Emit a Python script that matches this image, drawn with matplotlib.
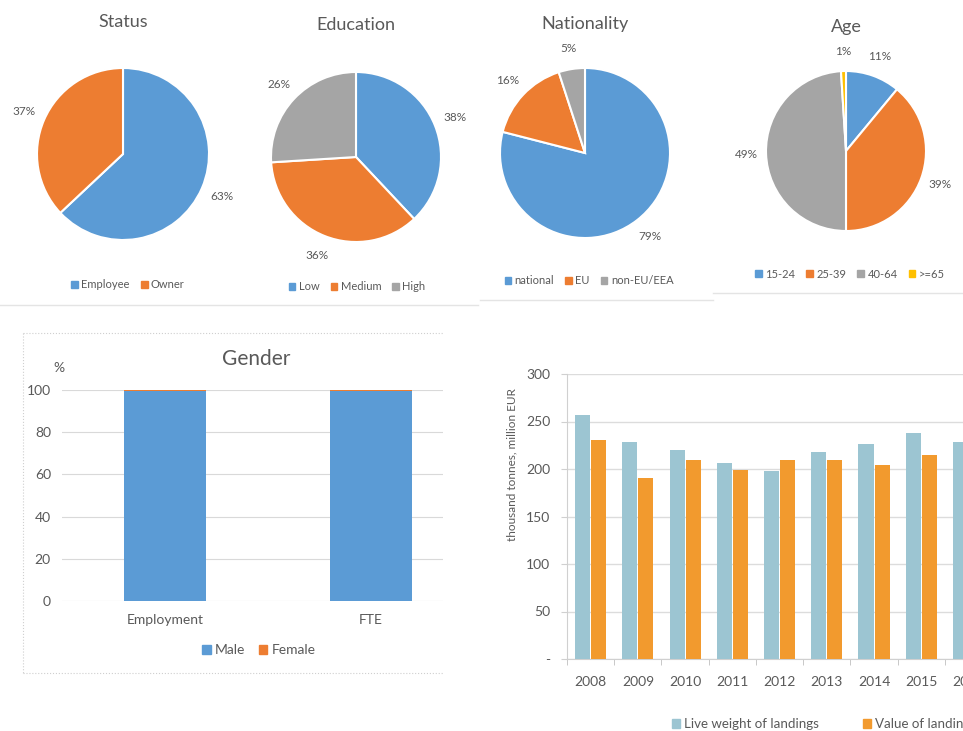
import matplotlib
matplotlib.use("Agg")
import matplotlib.pyplot as plt
from matplotlib.patches import Patch
from matplotlib.lines import Line2D
import numpy as np

plt.rcParams['font.family'] = ['Lato', 'DejaVu Sans']
TXT = '#595959'

# ---- data ----
status_labels = ['Employee', 'Owner']
status_values = [63, 37]

edu_labels = ['Low', 'Medium', 'High']
edu_values = [38, 36, 26]

nat_labels = ['national', 'EU', 'non-EU/EEA']
nat_values = [79, 16, 5]

age_labels = ['15-24', '25-39', '40-64', '>=65']
age_values = [11, 39, 49, 1]

gender_cats = ['Employment', 'FTE']
male = [99.6, 99.6]
female = [0.4, 0.4]

years = ['2008', '2009', '2010', '2011', '2012', '2013', '2014', '2015', '2016']
live_weight = [257, 228, 220, 206, 198, 218, 226, 238, 228]
landing_value = [231, 191, 209, 199, 209, 209, 204, 215, 212]

BLUE, ORANGE, GREY, YELLOW = '#5B9BD5', '#ED7D31', '#A5A5A5', '#FFC000'
TEAL, ORANGE2 = '#9cc5d2', '#f29a2e'

W, H = 963, 731
fig = plt.figure(figsize=(W / 100, H / 100), dpi=100)
fig.patch.set_facecolor('white')


def fx(x):
    return x / W


def fy(y):
    return 1 - y / H


def box(x0, y0, x1, y1):
    return [x0 / W, 1 - y1 / H, (x1 - x0) / W, (y1 - y0) / H]


def legend_at(x, y, labels, colors, size=8, spacing=1.0, loc='center'):
    handles = [Patch(color=c) for c in colors]
    fig.legend(handles, labels, loc=loc, bbox_to_anchor=(fx(x), fy(y)),
               ncol=len(labels), frameon=False, fontsize=size,
               handlelength=0.6, handleheight=0.6, handletextpad=0.3,
               columnspacing=spacing, labelcolor=TXT, borderpad=0, borderaxespad=0)


def draw_pie(cx, cy, r, values, labels, colors, title, ty, lx, ly):
    s = 1.45
    ax = fig.add_axes(box(cx - s * r, cy - s * r, cx + s * r, cy + s * r))
    ax.pie(values, colors=colors, startangle=90, counterclock=False,
           autopct=lambda p: f'{p:.0f}%', pctdistance=1.25,
           wedgeprops=dict(edgecolor='white', linewidth=1.5),
           textprops=dict(color=TXT, fontsize=8.5))
    ax.set_xlim(-s, s)
    ax.set_ylim(-s, s)
    ax.set_aspect('equal')
    fig.text(fx(cx), fy(ty), title, ha='center', va='center', fontsize=13, color=TXT)
    legend_at(lx, ly, labels, colors)


draw_pie(123, 154, 86, status_values, status_labels, [BLUE, ORANGE], 'Status', 22, 128, 285)
draw_pie(356, 157, 85, edu_values, edu_labels, [BLUE, ORANGE, GREY], 'Education', 25, 357, 287)
draw_pie(585, 153, 85, nat_values, nat_labels, [BLUE, ORANGE, GREY], 'Nationality', 24, 589, 281)
draw_pie(846, 151, 80, age_values, age_labels, [BLUE, ORANGE, GREY, YELLOW], 'Age', 27, 850, 274)

# thin separators under the pies
for x0, x1, y in [(0, 478, 305), (480, 713, 300), (713, 963, 293)]:
    fig.add_artist(Line2D([fx(x0), fx(x1)], [fy(y), fy(y)], color='#e4e4e4', lw=1))

# ---- Gender ----
ax = fig.add_axes(box(62, 390, 443, 601))
xg = np.arange(len(gender_cats))
ax.bar(xg, male, 0.4, color=BLUE, zorder=3, label='Male')
ax.bar(xg, female, 0.4, bottom=male, color=ORANGE, zorder=3, label='Female')
ax.set_xlim(-0.5, 1.35)
ax.set_ylim(0, 100)
ax.set_yticks(range(0, 101, 20))
ax.yaxis.grid(True, color='#d9d9d9', lw=0.8)
ax.set_axisbelow(True)
ax.set_xticks(xg)
ax.set_xticklabels(gender_cats)
ax.tick_params(length=0, labelsize=10, labelcolor=TXT)
ax.tick_params(axis='y', pad=8)
ax.tick_params(axis='x', pad=9)
for sp in ax.spines.values():
    sp.set_visible(False)
fig.text(fx(256), fy(359), 'Gender', ha='center', va='center', fontsize=15, color=TXT)
fig.text(fx(59), fy(368), '%', ha='center', va='center', fontsize=10, color=TXT)
legend_at(259, 650, ['Male', 'Female'], [BLUE, ORANGE], size=10, spacing=1.0)
for xs, ys in [([23, 23], [333, 673]), ([23, 443], [333, 333]), ([23, 443], [673, 673])]:
    fig.add_artist(Line2D([fx(v) for v in xs], [fy(v) for v in ys],
                          color='#cfcfcf', lw=0.8, ls=':'))

# ---- Landings ----
step = 47.24
ax2 = fig.add_axes(box(567, 374, 567 + len(years) * step, 659))
xl = np.arange(len(years))
ax2.bar(xl - 0.17, live_weight, 0.32, color=TEAL, zorder=3)
ax2.bar(xl + 0.17, landing_value, 0.32, color=ORANGE2, zorder=3)
ax2.set_xlim(-0.5, len(years) - 0.5)
ax2.set_ylim(0, 300)
yt = list(range(0, 301, 50))
ax2.set_yticks(yt)
ax2.set_yticklabels(['-'] + [str(v) for v in yt[1:]])
ax2.yaxis.grid(True, color='#dcdcdc', lw=1)
ax2.set_axisbelow(True)
ax2.set_xticks(xl)
ax2.set_xticklabels(years)
ax2.set_xticks(np.arange(-0.5, len(years)), minor=True)
ax2.tick_params(axis='x', which='major', length=0, pad=12, labelsize=10, labelcolor=TXT)
ax2.tick_params(axis='x', which='minor', length=4, color='#bfbfbf', direction='out')
ax2.tick_params(axis='y', length=4, color='#d0d0d0', pad=8, labelsize=10, labelcolor=TXT)
for k in ['top', 'right']:
    ax2.spines[k].set_visible(False)
for k in ['left', 'bottom']:
    ax2.spines[k].set_color('#d0d0d0')
fig.text(fx(512), fy(465), 'thousand tonnes, million EUR', rotation=90,
         ha='center', va='center', fontsize=8.5, color=TXT)
legend_at(672, 724, ['Live weight of landings', 'Value of landings'], [TEAL, ORANGE2],
          size=9.6, spacing=3.3, loc='center left')

fig.savefig('out.png', dpi=100)
